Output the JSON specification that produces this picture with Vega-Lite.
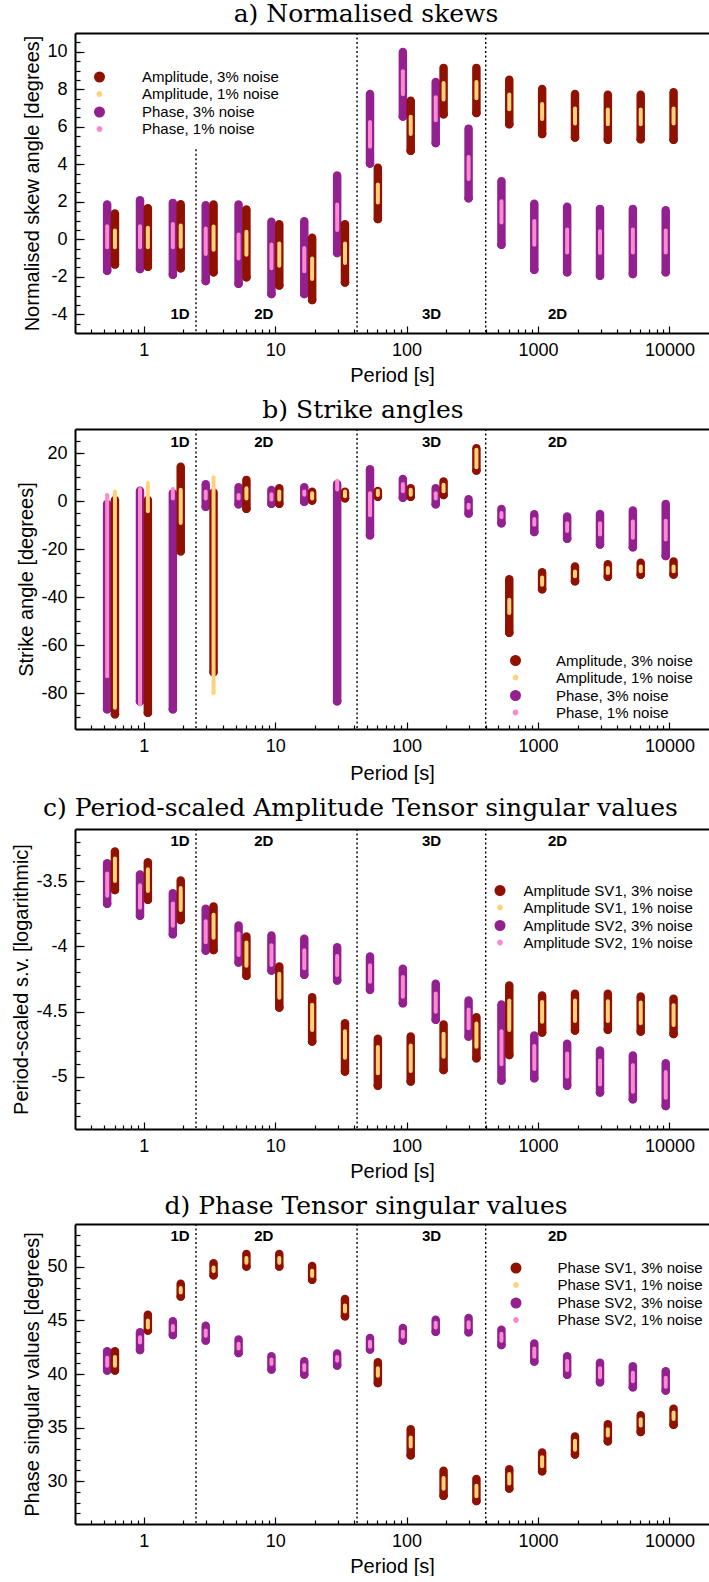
{
"$schema": "https://vega.github.io/schema/vega-lite/v6.json",
"background": "white",
"padding": {"left": 11, "top": 2, "right": 0, "bottom": 0},
"spacing": 13,
"resolve": {"scale": {"color": "independent", "shape": "independent", "stroke": "independent"}, "legend": {"color": "independent", "shape": "independent"}},
"datasets": {
"a": [
{"p":0.527,"s":"Phase, 3% noise","hi":1.85,"lo":-1.68},{"p":0.937,"s":"Phase, 3% noise","hi":2.08,"lo":-1.59},{"p":1.666,"s":"Phase, 3% noise","hi":1.94,"lo":-1.89},{"p":2.963,"s":"Phase, 3% noise","hi":1.81,"lo":-2.23},{"p":5.269,"s":"Phase, 3% noise","hi":1.85,"lo":-2.37},{"p":9.37,"s":"Phase, 3% noise","hi":0.93,"lo":-2.92},{"p":16.66,"s":"Phase, 3% noise","hi":0.96,"lo":-2.92},{"p":29.63,"s":"Phase, 3% noise","hi":3.4,"lo":-0.73},{"p":52.69,"s":"Phase, 3% noise","hi":7.75,"lo":4.04},{"p":93.7,"s":"Phase, 3% noise","hi":9.99,"lo":6.55},{"p":166.6,"s":"Phase, 3% noise","hi":8.39,"lo":5.13},{"p":296.3,"s":"Phase, 3% noise","hi":5.9,"lo":2.19},{"p":526.9,"s":"Phase, 3% noise","hi":3.1,"lo":-0.29},{"p":937,"s":"Phase, 3% noise","hi":1.89,"lo":-1.62},{"p":1666,"s":"Phase, 3% noise","hi":1.73,"lo":-1.76},{"p":2963,"s":"Phase, 3% noise","hi":1.62,"lo":-1.94},{"p":5269,"s":"Phase, 3% noise","hi":1.62,"lo":-1.85},{"p":9370,"s":"Phase, 3% noise","hi":1.55,"lo":-1.76},
{"p":0.604,"s":"Amplitude, 3% noise","hi":1.37,"lo":-1.34},{"p":1.075,"s":"Amplitude, 3% noise","hi":1.66,"lo":-1.46},{"p":1.912,"s":"Amplitude, 3% noise","hi":1.87,"lo":-1.55},{"p":3.399,"s":"Amplitude, 3% noise","hi":1.85,"lo":-1.76},{"p":6.045,"s":"Amplitude, 3% noise","hi":1.59,"lo":-2.03},{"p":10.75,"s":"Amplitude, 3% noise","hi":0.8,"lo":-2.46},{"p":19.12,"s":"Amplitude, 3% noise","hi":0.08,"lo":-3.24},{"p":33.99,"s":"Amplitude, 3% noise","hi":0.8,"lo":-2.3},{"p":60.45,"s":"Amplitude, 3% noise","hi":3.81,"lo":1.08},{"p":107.5,"s":"Amplitude, 3% noise","hi":7.39,"lo":4.72},{"p":191.2,"s":"Amplitude, 3% noise","hi":9.14,"lo":6.67},{"p":339.9,"s":"Amplitude, 3% noise","hi":9.14,"lo":6.73},{"p":604.5,"s":"Amplitude, 3% noise","hi":8.51,"lo":6.14},{"p":1075,"s":"Amplitude, 3% noise","hi":8.01,"lo":5.61},{"p":1912,"s":"Amplitude, 3% noise","hi":7.75,"lo":5.43},{"p":3399,"s":"Amplitude, 3% noise","hi":7.71,"lo":5.31},{"p":6045,"s":"Amplitude, 3% noise","hi":7.71,"lo":5.34},{"p":10750,"s":"Amplitude, 3% noise","hi":7.84,"lo":5.31},
{"p":0.527,"s":"Phase, 1% noise","hi":0.7,"lo":-0.43},{"p":0.937,"s":"Phase, 1% noise","hi":0.7,"lo":-0.43},{"p":1.666,"s":"Phase, 1% noise","hi":0.82,"lo":-0.43},{"p":2.963,"s":"Phase, 1% noise","hi":0.57,"lo":-0.79},{"p":5.269,"s":"Phase, 1% noise","hi":0.25,"lo":-1.02},{"p":9.37,"s":"Phase, 1% noise","hi":-0.28,"lo":-1.55},{"p":16.66,"s":"Phase, 1% noise","hi":-0.46,"lo":-1.71},{"p":29.63,"s":"Phase, 1% noise","hi":1.85,"lo":0.49},{"p":52.69,"s":"Phase, 1% noise","hi":6.26,"lo":4.93},{"p":93.7,"s":"Phase, 1% noise","hi":8.96,"lo":7.74},{"p":166.6,"s":"Phase, 1% noise","hi":7.57,"lo":6.35},{"p":296.3,"s":"Phase, 1% noise","hi":4.39,"lo":3.21},{"p":526.9,"s":"Phase, 1% noise","hi":2.03,"lo":0.9},{"p":937,"s":"Phase, 1% noise","hi":0.97,"lo":-0.29},{"p":1666,"s":"Phase, 1% noise","hi":0.52,"lo":-0.7},{"p":2963,"s":"Phase, 1% noise","hi":0.43,"lo":-0.73},{"p":5269,"s":"Phase, 1% noise","hi":0.52,"lo":-0.7},{"p":9370,"s":"Phase, 1% noise","hi":0.47,"lo":-0.7},
{"p":0.604,"s":"Amplitude, 1% noise","hi":0.47,"lo":-0.43},{"p":1.075,"s":"Amplitude, 1% noise","hi":0.61,"lo":-0.43},{"p":1.912,"s":"Amplitude, 1% noise","hi":0.73,"lo":-0.4},{"p":3.399,"s":"Amplitude, 1% noise","hi":0.68,"lo":-0.56},{"p":6.045,"s":"Amplitude, 1% noise","hi":0.4,"lo":-0.82},{"p":10.75,"s":"Amplitude, 1% noise","hi":-0.22,"lo":-1.41},{"p":19.12,"s":"Amplitude, 1% noise","hi":-1.02,"lo":-2.12},{"p":33.99,"s":"Amplitude, 1% noise","hi":-0.22,"lo":-1.27},{"p":60.45,"s":"Amplitude, 1% noise","hi":2.92,"lo":1.96},{"p":107.5,"s":"Amplitude, 1% noise","hi":6.53,"lo":5.61},{"p":191.2,"s":"Amplitude, 1% noise","hi":8.34,"lo":7.45},{"p":339.9,"s":"Amplitude, 1% noise","hi":8.39,"lo":7.52},{"p":604.5,"s":"Amplitude, 1% noise","hi":7.72,"lo":6.94},{"p":1075,"s":"Amplitude, 1% noise","hi":7.22,"lo":6.41},{"p":1912,"s":"Amplitude, 1% noise","hi":6.97,"lo":6.17},{"p":3399,"s":"Amplitude, 1% noise","hi":6.92,"lo":6.14},{"p":6045,"s":"Amplitude, 1% noise","hi":6.92,"lo":6.14},{"p":10750,"s":"Amplitude, 1% noise","hi":6.97,"lo":6.17}
],
"b": [
{"p":0.527,"s":"Phase, 3% noise","hi":-1.2,"lo":-86.8},{"p":0.937,"s":"Phase, 3% noise","hi":4.3,"lo":-83.4},{"p":1.666,"s":"Phase, 3% noise","hi":3.2,"lo":-86.8},{"p":2.963,"s":"Phase, 3% noise","hi":7,"lo":-2.4},{"p":5.269,"s":"Phase, 3% noise","hi":5.7,"lo":-1.4},{"p":9.37,"s":"Phase, 3% noise","hi":4.6,"lo":-1.1},{"p":16.66,"s":"Phase, 3% noise","hi":5.7,"lo":-0.3},{"p":29.63,"s":"Phase, 3% noise","hi":7.1,"lo":-83.4},{"p":52.69,"s":"Phase, 3% noise","hi":13.2,"lo":-14.3},{"p":93.7,"s":"Phase, 3% noise","hi":9.2,"lo":1.4},{"p":166.6,"s":"Phase, 3% noise","hi":5.3,"lo":-1.4},{"p":296.3,"s":"Phase, 3% noise","hi":0.7,"lo":-5.2},{"p":526.9,"s":"Phase, 3% noise","hi":-3.3,"lo":-9.3},{"p":937,"s":"Phase, 3% noise","hi":-5.5,"lo":-12.9},{"p":1666,"s":"Phase, 3% noise","hi":-6.5,"lo":-15.7},{"p":2963,"s":"Phase, 3% noise","hi":-5.4,"lo":-18.1},{"p":5269,"s":"Phase, 3% noise","hi":-4,"lo":-19.3},{"p":9370,"s":"Phase, 3% noise","hi":-1.2,"lo":-22.9},
{"p":0.604,"s":"Amplitude, 3% noise","hi":0.4,"lo":-88.9},{"p":1.075,"s":"Amplitude, 3% noise","hi":0.4,"lo":-88.2},{"p":1.912,"s":"Amplitude, 3% noise","hi":14.3,"lo":-20.9},{"p":3.399,"s":"Amplitude, 3% noise","hi":3.5,"lo":-71.3},{"p":6.045,"s":"Amplitude, 3% noise","hi":8.8,"lo":-3.2},{"p":10.75,"s":"Amplitude, 3% noise","hi":5.3,"lo":-1.1},{"p":19.12,"s":"Amplitude, 3% noise","hi":3.9,"lo":0.25},{"p":33.99,"s":"Amplitude, 3% noise","hi":3.9,"lo":1.1},{"p":60.45,"s":"Amplitude, 3% noise","hi":4.2,"lo":1.8},{"p":107.5,"s":"Amplitude, 3% noise","hi":5.3,"lo":1.8},{"p":191.2,"s":"Amplitude, 3% noise","hi":8.1,"lo":2.5},{"p":339.9,"s":"Amplitude, 3% noise","hi":22,"lo":12.75},{"p":604.5,"s":"Amplitude, 3% noise","hi":-32.6,"lo":-54.9},{"p":1075,"s":"Amplitude, 3% noise","hi":-29.7,"lo":-36.8},{"p":1912,"s":"Amplitude, 3% noise","hi":-27.3,"lo":-33.4},{"p":3399,"s":"Amplitude, 3% noise","hi":-26.4,"lo":-31.6},{"p":6045,"s":"Amplitude, 3% noise","hi":-25.7,"lo":-30.7},{"p":10750,"s":"Amplitude, 3% noise","hi":-25.25,"lo":-30.6},
{"p":0.527,"s":"Phase, 1% noise","hi":2.55,"lo":-73},{"p":0.937,"s":"Phase, 1% noise","hi":5.05,"lo":-84.75},{"p":1.666,"s":"Phase, 1% noise","hi":5.05,"lo":1.05},{"p":2.963,"s":"Phase, 1% noise","hi":3.95,"lo":1.05},{"p":5.269,"s":"Phase, 1% noise","hi":2.55,"lo":1.05},{"p":9.37,"s":"Phase, 1% noise","hi":2.85,"lo":0.65},{"p":16.66,"s":"Phase, 1% noise","hi":3.95,"lo":2.65},{"p":29.63,"s":"Phase, 1% noise","hi":8.45,"lo":4.75},{"p":52.69,"s":"Phase, 1% noise","hi":3.25,"lo":-5.95},{"p":93.7,"s":"Phase, 1% noise","hi":7.05,"lo":4.05},{"p":166.6,"s":"Phase, 1% noise","hi":3.25,"lo":1.05},{"p":296.3,"s":"Phase, 1% noise","hi":-1.55,"lo":-2.85},{"p":526.9,"s":"Phase, 1% noise","hi":-5.05,"lo":-6.75},{"p":937,"s":"Phase, 1% noise","hi":-7.55,"lo":-9.85},{"p":1666,"s":"Phase, 1% noise","hi":-9.25,"lo":-12.55},{"p":2963,"s":"Phase, 1% noise","hi":-9.25,"lo":-13.95},{"p":5269,"s":"Phase, 1% noise","hi":-8.55,"lo":-15.35},{"p":9370,"s":"Phase, 1% noise","hi":-8.25,"lo":-16.05},
{"p":0.604,"s":"Amplitude, 1% noise","hi":3.95,"lo":-86.1},{"p":1.075,"s":"Amplitude, 1% noise","hi":7.45,"lo":-4.25},{"p":1.912,"s":"Amplitude, 1% noise","hi":4.65,"lo":-9.15},{"p":3.399,"s":"Amplitude, 1% noise","hi":9.85,"lo":-79.95},{"p":6.045,"s":"Amplitude, 1% noise","hi":5.35,"lo":1.05},{"p":10.75,"s":"Amplitude, 1% noise","hi":3.95,"lo":0.65},{"p":19.12,"s":"Amplitude, 1% noise","hi":3.25,"lo":1.05},{"p":33.99,"s":"Amplitude, 1% noise","hi":3.95,"lo":2},{"p":60.45,"s":"Amplitude, 1% noise","hi":4.25,"lo":2.45},{"p":107.5,"s":"Amplitude, 1% noise","hi":4.65,"lo":2.65},{"p":191.2,"s":"Amplitude, 1% noise","hi":6.75,"lo":4.05},{"p":339.9,"s":"Amplitude, 1% noise","hi":21.35,"lo":14.05},{"p":604.5,"s":"Amplitude, 1% noise","hi":-41.15,"lo":-46.65},{"p":1075,"s":"Amplitude, 1% noise","hi":-31.85,"lo":-34.85},{"p":1912,"s":"Amplitude, 1% noise","hi":-29.35,"lo":-31.35},{"p":3399,"s":"Amplitude, 1% noise","hi":-27.95,"lo":-29.95},{"p":6045,"s":"Amplitude, 1% noise","hi":-27.25,"lo":-29.25},{"p":10750,"s":"Amplitude, 1% noise","hi":-27.25,"lo":-29.25}
],
"c": [
{"p":0.527,"s":"Amplitude SV2, 3% noise","hi":-3.362,"lo":-3.674},{"p":0.937,"s":"Amplitude SV2, 3% noise","hi":-3.449,"lo":-3.766},{"p":1.666,"s":"Amplitude SV2, 3% noise","hi":-3.592,"lo":-3.906},{"p":2.963,"s":"Amplitude SV2, 3% noise","hi":-3.712,"lo":-4.032},{"p":5.269,"s":"Amplitude SV2, 3% noise","hi":-3.84,"lo":-4.124},{"p":9.37,"s":"Amplitude SV2, 3% noise","hi":-3.916,"lo":-4.185},{"p":16.66,"s":"Amplitude SV2, 3% noise","hi":-3.942,"lo":-4.218},{"p":29.63,"s":"Amplitude SV2, 3% noise","hi":-4.006,"lo":-4.262},{"p":52.69,"s":"Amplitude SV2, 3% noise","hi":-4.077,"lo":-4.333},{"p":93.7,"s":"Amplitude SV2, 3% noise","hi":-4.172,"lo":-4.435},{"p":166.6,"s":"Amplitude SV2, 3% noise","hi":-4.287,"lo":-4.563},{"p":296.3,"s":"Amplitude SV2, 3% noise","hi":-4.415,"lo":-4.691},{"p":526.9,"s":"Amplitude SV2, 3% noise","hi":-4.445,"lo":-5.028},{"p":937,"s":"Amplitude SV2, 3% noise","hi":-4.683,"lo":-5.01},{"p":1666,"s":"Amplitude SV2, 3% noise","hi":-4.747,"lo":-5.069},{"p":2963,"s":"Amplitude SV2, 3% noise","hi":-4.798,"lo":-5.12},{"p":5269,"s":"Amplitude SV2, 3% noise","hi":-4.836,"lo":-5.172},{"p":9370,"s":"Amplitude SV2, 3% noise","hi":-4.895,"lo":-5.223},
{"p":0.604,"s":"Amplitude SV1, 3% noise","hi":-3.272,"lo":-3.567},{"p":1.075,"s":"Amplitude SV1, 3% noise","hi":-3.354,"lo":-3.643},{"p":1.912,"s":"Amplitude SV1, 3% noise","hi":-3.495,"lo":-3.797},{"p":3.399,"s":"Amplitude SV1, 3% noise","hi":-3.694,"lo":-4.027},{"p":6.045,"s":"Amplitude SV1, 3% noise","hi":-3.924,"lo":-4.226},{"p":10.75,"s":"Amplitude SV1, 3% noise","hi":-4.154,"lo":-4.469},{"p":19.12,"s":"Amplitude SV1, 3% noise","hi":-4.389,"lo":-4.729},{"p":33.99,"s":"Amplitude SV1, 3% noise","hi":-4.589,"lo":-4.959},{"p":60.45,"s":"Amplitude SV1, 3% noise","hi":-4.709,"lo":-5.069},{"p":107.5,"s":"Amplitude SV1, 3% noise","hi":-4.691,"lo":-5.036},{"p":191.2,"s":"Amplitude SV1, 3% noise","hi":-4.599,"lo":-4.947},{"p":339.9,"s":"Amplitude SV1, 3% noise","hi":-4.543,"lo":-4.857},{"p":604.5,"s":"Amplitude SV1, 3% noise","hi":-4.3,"lo":-4.832},{"p":1075,"s":"Amplitude SV1, 3% noise","hi":-4.376,"lo":-4.66},{"p":1912,"s":"Amplitude SV1, 3% noise","hi":-4.364,"lo":-4.645},{"p":3399,"s":"Amplitude SV1, 3% noise","hi":-4.364,"lo":-4.64},{"p":6045,"s":"Amplitude SV1, 3% noise","hi":-4.384,"lo":-4.653},{"p":10750,"s":"Amplitude SV1, 3% noise","hi":-4.402,"lo":-4.671},
{"p":0.527,"s":"Amplitude SV2, 1% noise","hi":-3.442,"lo":-3.611},{"p":0.937,"s":"Amplitude SV2, 1% noise","hi":-3.532,"lo":-3.703},{"p":1.666,"s":"Amplitude SV2, 1% noise","hi":-3.672,"lo":-3.841},{"p":2.963,"s":"Amplitude SV2, 1% noise","hi":-3.808,"lo":-3.969},{"p":5.269,"s":"Amplitude SV2, 1% noise","hi":-3.902,"lo":-4.066},{"p":9.37,"s":"Amplitude SV2, 1% noise","hi":-3.992,"lo":-4.143},{"p":16.66,"s":"Amplitude SV2, 1% noise","hi":-4.03,"lo":-4.168},{"p":29.63,"s":"Amplitude SV2, 1% noise","hi":-4.074,"lo":-4.219},{"p":52.69,"s":"Amplitude SV2, 1% noise","hi":-4.145,"lo":-4.271},{"p":93.7,"s":"Amplitude SV2, 1% noise","hi":-4.235,"lo":-4.386},{"p":166.6,"s":"Amplitude SV2, 1% noise","hi":-4.362,"lo":-4.501},{"p":296.3,"s":"Amplitude SV2, 1% noise","hi":-4.483,"lo":-4.628},{"p":526.9,"s":"Amplitude SV2, 1% noise","hi":-4.651,"lo":-4.904},{"p":937,"s":"Amplitude SV2, 1% noise","hi":-4.764,"lo":-4.94},{"p":1666,"s":"Amplitude SV2, 1% noise","hi":-4.822,"lo":-4.999},{"p":2963,"s":"Amplitude SV2, 1% noise","hi":-4.874,"lo":-5.058},{"p":5269,"s":"Amplitude SV2, 1% noise","hi":-4.912,"lo":-5.114},{"p":9370,"s":"Amplitude SV2, 1% noise","hi":-4.963,"lo":-5.16},
{"p":0.604,"s":"Amplitude SV1, 1% noise","hi":-3.327,"lo":-3.499},{"p":1.075,"s":"Amplitude SV1, 1% noise","hi":-3.409,"lo":-3.575},{"p":1.912,"s":"Amplitude SV1, 1% noise","hi":-3.552,"lo":-3.721},{"p":3.399,"s":"Amplitude SV1, 1% noise","hi":-3.757,"lo":-3.933},{"p":6.045,"s":"Amplitude SV1, 1% noise","hi":-3.971,"lo":-4.148},{"p":10.75,"s":"Amplitude SV1, 1% noise","hi":-4.209,"lo":-4.393},{"p":19.12,"s":"Amplitude SV1, 1% noise","hi":-4.447,"lo":-4.641},{"p":33.99,"s":"Amplitude SV1, 1% noise","hi":-4.651,"lo":-4.853},{"p":60.45,"s":"Amplitude SV1, 1% noise","hi":-4.771,"lo":-4.973},{"p":107.5,"s":"Amplitude SV1, 1% noise","hi":-4.759,"lo":-4.955},{"p":191.2,"s":"Amplitude SV1, 1% noise","hi":-4.669,"lo":-4.846},{"p":339.9,"s":"Amplitude SV1, 1% noise","hi":-4.592,"lo":-4.769},{"p":604.5,"s":"Amplitude SV1, 1% noise","hi":-4.414,"lo":-4.641},{"p":1075,"s":"Amplitude SV1, 1% noise","hi":-4.426,"lo":-4.577},{"p":1912,"s":"Amplitude SV1, 1% noise","hi":-4.414,"lo":-4.572},{"p":3399,"s":"Amplitude SV1, 1% noise","hi":-4.421,"lo":-4.572},{"p":6045,"s":"Amplitude SV1, 1% noise","hi":-4.431,"lo":-4.59},{"p":10750,"s":"Amplitude SV1, 1% noise","hi":-4.452,"lo":-4.603}
],
"d": [
{"p":0.527,"s":"Phase SV2, 3% noise","hi":42.13,"lo":40.32},{"p":0.937,"s":"Phase SV2, 3% noise","hi":43.89,"lo":42.24},{"p":1.666,"s":"Phase SV2, 3% noise","hi":44.92,"lo":43.64},{"p":2.963,"s":"Phase SV2, 3% noise","hi":44.51,"lo":43.12},{"p":5.269,"s":"Phase SV2, 3% noise","hi":43.21,"lo":41.97},{"p":9.37,"s":"Phase SV2, 3% noise","hi":41.66,"lo":40.42},{"p":16.66,"s":"Phase SV2, 3% noise","hi":41.19,"lo":39.95},{"p":29.63,"s":"Phase SV2, 3% noise","hi":41.91,"lo":40.79},{"p":52.69,"s":"Phase SV2, 3% noise","hi":43.37,"lo":42.28},{"p":93.7,"s":"Phase SV2, 3% noise","hi":44.3,"lo":43.12},{"p":166.6,"s":"Phase SV2, 3% noise","hi":45.07,"lo":43.95},{"p":296.3,"s":"Phase SV2, 3% noise","hi":45.23,"lo":43.89},{"p":526.9,"s":"Phase SV2, 3% noise","hi":44.14,"lo":42.71},{"p":937,"s":"Phase SV2, 3% noise","hi":42.84,"lo":41.16},{"p":1666,"s":"Phase SV2, 3% noise","hi":41.66,"lo":39.92},{"p":2963,"s":"Phase SV2, 3% noise","hi":41.04,"lo":39.24},{"p":5269,"s":"Phase SV2, 3% noise","hi":40.73,"lo":38.77},{"p":9370,"s":"Phase SV2, 3% noise","hi":40.26,"lo":38.46},
{"p":0.604,"s":"Phase SV1, 3% noise","hi":42.13,"lo":40.32},{"p":1.075,"s":"Phase SV1, 3% noise","hi":45.54,"lo":44.05},{"p":1.912,"s":"Phase SV1, 3% noise","hi":48.42,"lo":47.24},{"p":3.399,"s":"Phase SV1, 3% noise","hi":50.34,"lo":49.22},{"p":6.045,"s":"Phase SV1, 3% noise","hi":51.21,"lo":50.03},{"p":10.75,"s":"Phase SV1, 3% noise","hi":51.21,"lo":50.03},{"p":19.12,"s":"Phase SV1, 3% noise","hi":50.09,"lo":48.79},{"p":33.99,"s":"Phase SV1, 3% noise","hi":46.99,"lo":45.38},{"p":60.45,"s":"Phase SV1, 3% noise","hi":41.1,"lo":39.15},{"p":107.5,"s":"Phase SV1, 3% noise","hi":34.84,"lo":32.42},{"p":191.2,"s":"Phase SV1, 3% noise","hi":30.96,"lo":28.63},{"p":339.9,"s":"Phase SV1, 3% noise","hi":30.19,"lo":28.14},{"p":604.5,"s":"Phase SV1, 3% noise","hi":31.12,"lo":29.32},{"p":1075,"s":"Phase SV1, 3% noise","hi":32.67,"lo":30.93},{"p":1912,"s":"Phase SV1, 3% noise","hi":34.16,"lo":32.48},{"p":3399,"s":"Phase SV1, 3% noise","hi":35.3,"lo":33.72},{"p":6045,"s":"Phase SV1, 3% noise","hi":36.14,"lo":34.59},{"p":10750,"s":"Phase SV1, 3% noise","hi":36.76,"lo":35.27},
{"p":0.527,"s":"Phase SV2, 1% noise","hi":41.52,"lo":40.77},{"p":0.937,"s":"Phase SV2, 1% noise","hi":43.43,"lo":42.95},{"p":1.666,"s":"Phase SV2, 1% noise","hi":44.47,"lo":44.09},{"p":2.963,"s":"Phase SV2, 1% noise","hi":44.06,"lo":43.57},{"p":5.269,"s":"Phase SV2, 1% noise","hi":42.83,"lo":42.39},{"p":9.37,"s":"Phase SV2, 1% noise","hi":41.36,"lo":40.93},{"p":16.66,"s":"Phase SV2, 1% noise","hi":40.84,"lo":40.37},{"p":29.63,"s":"Phase SV2, 1% noise","hi":41.58,"lo":41.24},{"p":52.69,"s":"Phase SV2, 1% noise","hi":43.01,"lo":42.54},{"p":93.7,"s":"Phase SV2, 1% noise","hi":43.94,"lo":43.47},{"p":166.6,"s":"Phase SV2, 1% noise","hi":44.78,"lo":44.34},{"p":296.3,"s":"Phase SV2, 1% noise","hi":44.84,"lo":44.34},{"p":526.9,"s":"Phase SV2, 1% noise","hi":43.75,"lo":43.1},{"p":937,"s":"Phase SV2, 1% noise","hi":42.39,"lo":41.61},{"p":1666,"s":"Phase SV2, 1% noise","hi":41.21,"lo":40.37},{"p":2963,"s":"Phase SV2, 1% noise","hi":40.53,"lo":39.69},{"p":5269,"s":"Phase SV2, 1% noise","hi":40.12,"lo":39.32},{"p":9370,"s":"Phase SV2, 1% noise","hi":39.66,"lo":38.82},
{"p":0.604,"s":"Phase SV1, 1% noise","hi":41.58,"lo":40.77},{"p":1.075,"s":"Phase SV1, 1% noise","hi":44.99,"lo":44.34},{"p":1.912,"s":"Phase SV1, 1% noise","hi":48.03,"lo":47.6},{"p":3.399,"s":"Phase SV1, 1% noise","hi":49.95,"lo":49.61},{"p":6.045,"s":"Phase SV1, 1% noise","hi":50.82,"lo":50.39},{"p":10.75,"s":"Phase SV1, 1% noise","hi":50.82,"lo":50.39},{"p":19.12,"s":"Phase SV1, 1% noise","hi":49.64,"lo":49.15},{"p":33.99,"s":"Phase SV1, 1% noise","hi":46.39,"lo":45.83},{"p":60.45,"s":"Phase SV1, 1% noise","hi":40.53,"lo":39.84},{"p":107.5,"s":"Phase SV1, 1% noise","hi":34.08,"lo":33.24},{"p":191.2,"s":"Phase SV1, 1% noise","hi":30.3,"lo":29.3},{"p":339.9,"s":"Phase SV1, 1% noise","hi":29.58,"lo":28.59},{"p":604.5,"s":"Phase SV1, 1% noise","hi":30.67,"lo":29.77},{"p":1075,"s":"Phase SV1, 1% noise","hi":32.22,"lo":31.38},{"p":1912,"s":"Phase SV1, 1% noise","hi":33.77,"lo":32.93},{"p":3399,"s":"Phase SV1, 1% noise","hi":34.85,"lo":34.26},{"p":6045,"s":"Phase SV1, 1% noise","hi":35.78,"lo":35.19},{"p":10750,"s":"Phase SV1, 1% noise","hi":36.4,"lo":35.81}
],
"linesA": [{"x":2.5,"y0":-5,"y1":4.8},{"x":42,"y0":-5,"y1":11},{"x":400,"y0":-5,"y1":11}],
"lines": [{"x":2.5},{"x":42},{"x":400}],
"regions": [{"x":1.89,"t":"1D"},{"x":8.2,"t":"2D"},{"x":155,"t":"3D"},{"x":1410,"t":"2D"}]
},
"vconcat": [
{
"width": 634, "height": 300,
"title": {"text": "a) Normalised skews", "offset": 5},
"resolve": {"axis": {"x": "independent", "y": "independent"}},
"layer": [
{"data": {"name": "a"}, "mark": {"type": "point", "filled": true, "opacity": 1, "size": 72},
 "encoding": {"x": {"field": "p", "type": "quantitative", "scale": {"type": "log", "domain": [0.3, 20000], "nice": false}, "axis": null},
  "y": {"field": "lo", "type": "quantitative", "scale": {"domain": [-5, 11], "nice": false, "zero": false}, "axis": null},
  "color": {"field": "s", "type": "nominal", "scale": {"domain": ["Amplitude, 3% noise", "Amplitude, 1% noise", "Phase, 3% noise", "Phase, 1% noise"], "range": ["#8f1100", "#ffd27a", "#93208f", "#fa88d2"]},
   "legend": {"orient": "none", "legendX": 17, "legendY": 36.5, "title": null, "symbolSize": 90, "labelOffset": 35, "rowPadding": 1}},
  "shape": {"field": "s", "type": "nominal", "scale": {"domain": ["Amplitude, 3% noise", "Amplitude, 1% noise", "Phase, 3% noise", "Phase, 1% noise"], "range": ["M-1,0A1,1,0,1,1,1,0A1,1,0,1,1,-1,0Z", "M-0.45,0A0.45,0.45,0,1,1,0.45,0A0.45,0.45,0,1,1,-0.45,0Z", "M-1,0A1,1,0,1,1,1,0A1,1,0,1,1,-1,0Z", "M-0.45,0A0.45,0.45,0,1,1,0.45,0A0.45,0.45,0,1,1,-0.45,0Z"]},
   "legend": {"orient": "none", "legendX": 17, "legendY": 36.5, "title": null, "symbolSize": 90, "labelOffset": 35, "rowPadding": 1}}}},
{"data": {"name": "linesA"}, "mark": {"type": "rule", "strokeDash": [2, 2.5], "strokeWidth": 1.4, "color": "black"},
 "encoding": {"x": {"field": "x", "type": "quantitative", "scale": {"type": "log", "domain": [0.3, 20000], "nice": false}, "axis": {"orient": "top", "domain": true, "domainWidth": 2, "ticks": false, "labels": false, "title": null}},
  "y": {"field": "y1", "type": "quantitative", "scale": {"domain": [-5, 11], "nice": false, "zero": false}, "axis": null}, "y2": {"field": "y0"}}},
{"data": {"name": "a"}, "transform": [{"filter": {"field": "s", "oneOf": ["Phase, 3% noise", "Amplitude, 3% noise"]}}],
 "mark": {"type": "rule", "strokeWidth": 8.5, "strokeCap": "round"},
 "encoding": {"x": {"field": "p", "type": "quantitative", "scale": {"type": "log", "domain": [0.3, 20000], "nice": false}, "axis": {"orient": "bottom", "values": [1, 10, 100, 1000, 10000], "format": "d", "tickSize": -7, "labelPadding": 15, "domainWidth": 2, "title": "Period [s]", "titlePadding": 6}},
  "y": {"field": "hi", "type": "quantitative", "scale": {"domain": [-5, 11], "nice": false, "zero": false}, "axis": {"orient": "left", "values": [-4, -2, 0, 2, 4, 6, 8, 10], "format": "d", "tickSize": -9, "labelPadding": 17, "domainWidth": 2, "title": "Normalised skew angle [degrees]", "titlePadding": 4}},
  "y2": {"field": "lo"},
  "stroke": {"field": "s", "type": "nominal", "scale": {"domain": ["Amplitude, 3% noise", "Amplitude, 1% noise", "Phase, 3% noise", "Phase, 1% noise"], "range": ["#8f1100", "#ffd27a", "#93208f", "#fa88d2"]}, "legend": null}}},
{"data": {"name": "a"}, "transform": [{"filter": {"field": "s", "oneOf": ["Phase, 1% noise", "Amplitude, 1% noise"]}}],
 "mark": {"type": "rule", "strokeWidth": 4, "strokeCap": "round"},
 "encoding": {"x": {"field": "p", "type": "quantitative", "scale": {"type": "log", "domain": [0.3, 20000], "nice": false}, "axis": {"orient": "bottom", "values": [0.4,0.5,0.6,0.7,0.8,0.9,2,3,4,5,6,7,8,9,20,30,40,50,60,70,80,90,200,300,400,500,600,700,800,900,2000,3000,4000,5000,6000,7000,8000,9000], "tickSize": -4, "labels": false, "domain": false, "title": null}},
  "y": {"field": "hi", "type": "quantitative", "scale": {"domain": [-5, 11], "nice": false, "zero": false}, "axis": {"orient": "left", "values": [-4.5,-4,-3.5,-3,-2.5,-2,-1.5,-1,-0.5,0,0.5,1,1.5,2,2.5,3,3.5,4,4.5,5,5.5,6,6.5,7,7.5,8,8.5,9,9.5,10,10.5], "tickSize": -5, "labels": false, "domain": false, "title": null}},
  "y2": {"field": "lo"},
  "stroke": {"field": "s", "type": "nominal", "scale": {"domain": ["Amplitude, 3% noise", "Amplitude, 1% noise", "Phase, 3% noise", "Phase, 1% noise"], "range": ["#8f1100", "#ffd27a", "#93208f", "#fa88d2"]}, "legend": null}}},
{"data": {"name": "regions"}, "mark": {"type": "text", "font": "Liberation Sans", "fontWeight": "bold", "fontSize": 15, "color": "black", "baseline": "middle", "align": "center"},
 "encoding": {"x": {"field": "x", "type": "quantitative", "scale": {"type": "log", "domain": [0.3, 20000], "nice": false}, "axis": null},
  "y": {"datum": -4, "type": "quantitative", "scale": {"domain": [-5, 11], "nice": false, "zero": false}, "axis": null}, "text": {"field": "t"}}}
]
},
{
"width": 634, "height": 300,
"title": {"text": "b) Strike angles", "offset": 5},
"resolve": {"axis": {"x": "independent", "y": "independent"}},
"layer": [
{"data": {"name": "b"}, "mark": {"type": "point", "filled": true, "opacity": 1, "size": 72},
 "encoding": {"x": {"field": "p", "type": "quantitative", "scale": {"type": "log", "domain": [0.3, 20000], "nice": false}, "axis": null},
  "y": {"field": "lo", "type": "quantitative", "scale": {"domain": [-95, 30], "nice": false, "zero": false}, "axis": null},
  "color": {"field": "s", "type": "nominal", "scale": {"domain": ["Amplitude, 3% noise", "Amplitude, 1% noise", "Phase, 3% noise", "Phase, 1% noise"], "range": ["#8f1100", "#ffd27a", "#93208f", "#fa88d2"]},
   "legend": {"orient": "none", "legendX": 433, "legendY": 224, "title": null, "symbolSize": 90, "labelOffset": 33, "rowPadding": 1}},
  "shape": {"field": "s", "type": "nominal", "scale": {"domain": ["Amplitude, 3% noise", "Amplitude, 1% noise", "Phase, 3% noise", "Phase, 1% noise"], "range": ["M-1,0A1,1,0,1,1,1,0A1,1,0,1,1,-1,0Z", "M-0.45,0A0.45,0.45,0,1,1,0.45,0A0.45,0.45,0,1,1,-0.45,0Z", "M-1,0A1,1,0,1,1,1,0A1,1,0,1,1,-1,0Z", "M-0.45,0A0.45,0.45,0,1,1,0.45,0A0.45,0.45,0,1,1,-0.45,0Z"]},
   "legend": {"orient": "none", "legendX": 433, "legendY": 224, "title": null, "symbolSize": 90, "labelOffset": 33, "rowPadding": 1}}}},
{"data": {"name": "lines"}, "mark": {"type": "rule", "strokeDash": [2, 2.5], "strokeWidth": 1.4, "color": "black"},
 "encoding": {"x": {"field": "x", "type": "quantitative", "scale": {"type": "log", "domain": [0.3, 20000], "nice": false}, "axis": {"orient": "top", "domain": true, "domainWidth": 2, "ticks": false, "labels": false, "title": null}}}},
{"data": {"name": "b"}, "transform": [{"filter": {"field": "s", "oneOf": ["Phase, 3% noise", "Amplitude, 3% noise"]}}],
 "mark": {"type": "rule", "strokeWidth": 8.5, "strokeCap": "round"},
 "encoding": {"x": {"field": "p", "type": "quantitative", "scale": {"type": "log", "domain": [0.3, 20000], "nice": false}, "axis": {"orient": "bottom", "values": [1, 10, 100, 1000, 10000], "format": "d", "tickSize": -7, "labelPadding": 15, "domainWidth": 2, "title": "Period [s]", "titlePadding": 8}},
  "y": {"field": "hi", "type": "quantitative", "scale": {"domain": [-95, 30], "nice": false, "zero": false}, "axis": {"orient": "left", "values": [-80, -60, -40, -20, 0, 20], "format": "d", "tickSize": -9, "labelPadding": 17, "domainWidth": 2, "title": "Strike angle [degrees]", "titlePadding": 4}},
  "y2": {"field": "lo"},
  "stroke": {"field": "s", "type": "nominal", "scale": {"domain": ["Amplitude, 3% noise", "Amplitude, 1% noise", "Phase, 3% noise", "Phase, 1% noise"], "range": ["#8f1100", "#ffd27a", "#93208f", "#fa88d2"]}, "legend": null}}},
{"data": {"name": "b"}, "transform": [{"filter": {"field": "s", "oneOf": ["Phase, 1% noise", "Amplitude, 1% noise"]}}],
 "mark": {"type": "rule", "strokeWidth": 4, "strokeCap": "round"},
 "encoding": {"x": {"field": "p", "type": "quantitative", "scale": {"type": "log", "domain": [0.3, 20000], "nice": false}, "axis": {"orient": "bottom", "values": [0.4,0.5,0.6,0.7,0.8,0.9,2,3,4,5,6,7,8,9,20,30,40,50,60,70,80,90,200,300,400,500,600,700,800,900,2000,3000,4000,5000,6000,7000,8000,9000], "tickSize": -4, "labels": false, "domain": false, "title": null}},
  "y": {"field": "hi", "type": "quantitative", "scale": {"domain": [-95, 30], "nice": false, "zero": false}, "axis": {"orient": "left", "values": [-90,-85,-80,-75,-70,-65,-60,-55,-50,-45,-40,-35,-30,-25,-20,-15,-10,-5,0,5,10,15,20,25], "tickSize": -5, "labels": false, "domain": false, "title": null}},
  "y2": {"field": "lo"},
  "stroke": {"field": "s", "type": "nominal", "scale": {"domain": ["Amplitude, 3% noise", "Amplitude, 1% noise", "Phase, 3% noise", "Phase, 1% noise"], "range": ["#8f1100", "#ffd27a", "#93208f", "#fa88d2"]}, "legend": null}}},
{"data": {"name": "regions"}, "mark": {"type": "text", "font": "Liberation Sans", "fontWeight": "bold", "fontSize": 15, "color": "black", "baseline": "middle", "align": "center"},
 "encoding": {"x": {"field": "x", "type": "quantitative", "scale": {"type": "log", "domain": [0.3, 20000], "nice": false}, "axis": null},
  "y": {"datum": 24.5, "type": "quantitative", "scale": {"domain": [-95, 30], "nice": false, "zero": false}, "axis": null}, "text": {"field": "t"}}}
]
},
{
"width": 634, "height": 300,
"title": {"text": "c) Period-scaled Amplitude Tensor singular values", "offset": 7},
"resolve": {"axis": {"x": "independent", "y": "independent"}},
"layer": [
{"data": {"name": "c"}, "mark": {"type": "point", "filled": true, "opacity": 1, "size": 72},
 "encoding": {"x": {"field": "p", "type": "quantitative", "scale": {"type": "log", "domain": [0.3, 20000], "nice": false}, "axis": null},
  "y": {"field": "lo", "type": "quantitative", "scale": {"domain": [-5.4, -3.1], "nice": false, "zero": false}, "axis": null},
  "color": {"field": "s", "type": "nominal", "scale": {"domain": ["Amplitude SV1, 3% noise", "Amplitude SV1, 1% noise", "Amplitude SV2, 3% noise", "Amplitude SV2, 1% noise"], "range": ["#8f1100", "#ffd27a", "#93208f", "#fa88d2"]},
   "legend": {"orient": "none", "legendX": 417.5, "legendY": 54, "title": null, "symbolSize": 90, "labelOffset": 16, "rowPadding": 1}},
  "shape": {"field": "s", "type": "nominal", "scale": {"domain": ["Amplitude SV1, 3% noise", "Amplitude SV1, 1% noise", "Amplitude SV2, 3% noise", "Amplitude SV2, 1% noise"], "range": ["M-1,0A1,1,0,1,1,1,0A1,1,0,1,1,-1,0Z", "M-0.45,0A0.45,0.45,0,1,1,0.45,0A0.45,0.45,0,1,1,-0.45,0Z", "M-1,0A1,1,0,1,1,1,0A1,1,0,1,1,-1,0Z", "M-0.45,0A0.45,0.45,0,1,1,0.45,0A0.45,0.45,0,1,1,-0.45,0Z"]},
   "legend": {"orient": "none", "legendX": 417.5, "legendY": 54, "title": null, "symbolSize": 90, "labelOffset": 16, "rowPadding": 1}}}},
{"data": {"name": "lines"}, "mark": {"type": "rule", "strokeDash": [2, 2.5], "strokeWidth": 1.4, "color": "black"},
 "encoding": {"x": {"field": "x", "type": "quantitative", "scale": {"type": "log", "domain": [0.3, 20000], "nice": false}, "axis": {"orient": "top", "domain": true, "domainWidth": 2, "ticks": false, "labels": false, "title": null}}}},
{"data": {"name": "c"}, "transform": [{"filter": {"field": "s", "oneOf": ["Amplitude SV2, 3% noise", "Amplitude SV1, 3% noise"]}}],
 "mark": {"type": "rule", "strokeWidth": 8.5, "strokeCap": "round"},
 "encoding": {"x": {"field": "p", "type": "quantitative", "scale": {"type": "log", "domain": [0.3, 20000], "nice": false}, "axis": {"orient": "bottom", "values": [1, 10, 100, 1000, 10000], "format": "d", "tickSize": -7, "labelPadding": 15, "domainWidth": 2, "title": "Period [s]", "titlePadding": 6}},
  "y": {"field": "hi", "type": "quantitative", "scale": {"domain": [-5.4, -3.1], "nice": false, "zero": false}, "axis": {"orient": "left", "values": [-5, -4.5, -4, -3.5], "format": ".1~f", "tickSize": -9, "labelPadding": 17, "domainWidth": 2, "title": "Period-scaled s.v. [logarithmic]", "titlePadding": 4}},
  "y2": {"field": "lo"},
  "stroke": {"field": "s", "type": "nominal", "scale": {"domain": ["Amplitude SV1, 3% noise", "Amplitude SV1, 1% noise", "Amplitude SV2, 3% noise", "Amplitude SV2, 1% noise"], "range": ["#8f1100", "#ffd27a", "#93208f", "#fa88d2"]}, "legend": null}}},
{"data": {"name": "c"}, "transform": [{"filter": {"field": "s", "oneOf": ["Amplitude SV2, 1% noise", "Amplitude SV1, 1% noise"]}}],
 "mark": {"type": "rule", "strokeWidth": 4, "strokeCap": "round"},
 "encoding": {"x": {"field": "p", "type": "quantitative", "scale": {"type": "log", "domain": [0.3, 20000], "nice": false}, "axis": {"orient": "bottom", "values": [0.4,0.5,0.6,0.7,0.8,0.9,2,3,4,5,6,7,8,9,20,30,40,50,60,70,80,90,200,300,400,500,600,700,800,900,2000,3000,4000,5000,6000,7000,8000,9000], "tickSize": -4, "labels": false, "domain": false, "title": null}},
  "y": {"field": "hi", "type": "quantitative", "scale": {"domain": [-5.4, -3.1], "nice": false, "zero": false}, "axis": {"orient": "left", "values": [-5.3,-5.2,-5.1,-5,-4.9,-4.8,-4.7,-4.6,-4.5,-4.4,-4.3,-4.2,-4.1,-4,-3.9,-3.8,-3.7,-3.6,-3.5,-3.4,-3.3,-3.2], "tickSize": -5, "labels": false, "domain": false, "title": null}},
  "y2": {"field": "lo"},
  "stroke": {"field": "s", "type": "nominal", "scale": {"domain": ["Amplitude SV1, 3% noise", "Amplitude SV1, 1% noise", "Amplitude SV2, 3% noise", "Amplitude SV2, 1% noise"], "range": ["#8f1100", "#ffd27a", "#93208f", "#fa88d2"]}, "legend": null}}},
{"data": {"name": "regions"}, "mark": {"type": "text", "font": "Liberation Sans", "fontWeight": "bold", "fontSize": 15, "color": "black", "baseline": "middle", "align": "center"},
 "encoding": {"x": {"field": "x", "type": "quantitative", "scale": {"type": "log", "domain": [0.3, 20000], "nice": false}, "axis": null},
  "y": {"datum": -3.19, "type": "quantitative", "scale": {"domain": [-5.4, -3.1], "nice": false, "zero": false}, "axis": null}, "text": {"field": "t"}}}
]
},
{
"width": 634, "height": 300,
"title": {"text": "d) Phase Tensor singular values", "offset": 4},
"resolve": {"axis": {"x": "independent", "y": "independent"}},
"layer": [
{"data": {"name": "d"}, "mark": {"type": "point", "filled": true, "opacity": 1, "size": 72},
 "encoding": {"x": {"field": "p", "type": "quantitative", "scale": {"type": "log", "domain": [0.3, 20000], "nice": false}, "axis": null},
  "y": {"field": "lo", "type": "quantitative", "scale": {"domain": [26, 54], "nice": false, "zero": false}, "axis": null},
  "color": {"field": "s", "type": "nominal", "scale": {"domain": ["Phase SV1, 3% noise", "Phase SV1, 1% noise", "Phase SV2, 3% noise", "Phase SV2, 1% noise"], "range": ["#8f1100", "#ffd27a", "#93208f", "#fa88d2"]},
   "legend": {"orient": "none", "legendX": 433.5, "legendY": 36.5, "title": null, "symbolSize": 90, "labelOffset": 34, "rowPadding": 1}},
  "shape": {"field": "s", "type": "nominal", "scale": {"domain": ["Phase SV1, 3% noise", "Phase SV1, 1% noise", "Phase SV2, 3% noise", "Phase SV2, 1% noise"], "range": ["M-1,0A1,1,0,1,1,1,0A1,1,0,1,1,-1,0Z", "M-0.45,0A0.45,0.45,0,1,1,0.45,0A0.45,0.45,0,1,1,-0.45,0Z", "M-1,0A1,1,0,1,1,1,0A1,1,0,1,1,-1,0Z", "M-0.45,0A0.45,0.45,0,1,1,0.45,0A0.45,0.45,0,1,1,-0.45,0Z"]},
   "legend": {"orient": "none", "legendX": 433.5, "legendY": 36.5, "title": null, "symbolSize": 90, "labelOffset": 34, "rowPadding": 1}}}},
{"data": {"name": "lines"}, "mark": {"type": "rule", "strokeDash": [2, 2.5], "strokeWidth": 1.4, "color": "black"},
 "encoding": {"x": {"field": "x", "type": "quantitative", "scale": {"type": "log", "domain": [0.3, 20000], "nice": false}, "axis": {"orient": "top", "domain": true, "domainWidth": 2, "ticks": false, "labels": false, "title": null}}}},
{"data": {"name": "d"}, "transform": [{"filter": {"field": "s", "oneOf": ["Phase SV2, 3% noise", "Phase SV1, 3% noise"]}}],
 "mark": {"type": "rule", "strokeWidth": 8.5, "strokeCap": "round"},
 "encoding": {"x": {"field": "p", "type": "quantitative", "scale": {"type": "log", "domain": [0.3, 20000], "nice": false}, "axis": {"orient": "bottom", "values": [1, 10, 100, 1000, 10000], "format": "d", "tickSize": -7, "labelPadding": 15, "domainWidth": 2, "title": "Period [s]", "titlePadding": 6}},
  "y": {"field": "hi", "type": "quantitative", "scale": {"domain": [26, 54], "nice": false, "zero": false}, "axis": {"orient": "left", "values": [30, 35, 40, 45, 50], "format": "d", "tickSize": -9, "labelPadding": 17, "domainWidth": 2, "title": "Phase singular values [degrees]", "titlePadding": 4}},
  "y2": {"field": "lo"},
  "stroke": {"field": "s", "type": "nominal", "scale": {"domain": ["Phase SV1, 3% noise", "Phase SV1, 1% noise", "Phase SV2, 3% noise", "Phase SV2, 1% noise"], "range": ["#8f1100", "#ffd27a", "#93208f", "#fa88d2"]}, "legend": null}}},
{"data": {"name": "d"}, "transform": [{"filter": {"field": "s", "oneOf": ["Phase SV2, 1% noise", "Phase SV1, 1% noise"]}}],
 "mark": {"type": "rule", "strokeWidth": 4, "strokeCap": "round"},
 "encoding": {"x": {"field": "p", "type": "quantitative", "scale": {"type": "log", "domain": [0.3, 20000], "nice": false}, "axis": {"orient": "bottom", "values": [0.4,0.5,0.6,0.7,0.8,0.9,2,3,4,5,6,7,8,9,20,30,40,50,60,70,80,90,200,300,400,500,600,700,800,900,2000,3000,4000,5000,6000,7000,8000,9000], "tickSize": -4, "labels": false, "domain": false, "title": null}},
  "y": {"field": "hi", "type": "quantitative", "scale": {"domain": [26, 54], "nice": false, "zero": false}, "axis": {"orient": "left", "values": [27,28,29,30,31,32,33,34,35,36,37,38,39,40,41,42,43,44,45,46,47,48,49,50,51,52,53], "tickSize": -5, "labels": false, "domain": false, "title": null}},
  "y2": {"field": "lo"},
  "stroke": {"field": "s", "type": "nominal", "scale": {"domain": ["Phase SV1, 3% noise", "Phase SV1, 1% noise", "Phase SV2, 3% noise", "Phase SV2, 1% noise"], "range": ["#8f1100", "#ffd27a", "#93208f", "#fa88d2"]}, "legend": null}}},
{"data": {"name": "regions"}, "mark": {"type": "text", "font": "Liberation Sans", "fontWeight": "bold", "fontSize": 15, "color": "black", "baseline": "middle", "align": "center"},
 "encoding": {"x": {"field": "x", "type": "quantitative", "scale": {"type": "log", "domain": [0.3, 20000], "nice": false}, "axis": null},
  "y": {"datum": 52.85, "type": "quantitative", "scale": {"domain": [26, 54], "nice": false, "zero": false}, "axis": null}, "text": {"field": "t"}}}
]
}
],
"config": {
"font": "Liberation Sans",
"view": {"stroke": null},
"axis": {"labelFont": "Liberation Sans", "labelFontSize": 18, "labelColor": "#000", "titleFont": "Liberation Sans", "titleFontSize": 20, "titleFontWeight": "normal", "titleColor": "#000", "tickColor": "#000", "domainColor": "#000", "grid": false, "labelOverlap": false, "labelFlush": false, "tickWidth": 1.2},
"legend": {"labelFont": "Liberation Sans", "labelFontSize": 15, "labelColor": "#000", "labelLimit": 400},
"title": {"font": "DejaVu Serif", "fontSize": 25, "fontWeight": "normal", "color": "#000", "frame": "bounds", "anchor": "middle"},
"locale": {"number": {"decimal": ".", "thousands": ",", "grouping": [3], "currency": ["$", ""], "minus": "-"}}
}
}
